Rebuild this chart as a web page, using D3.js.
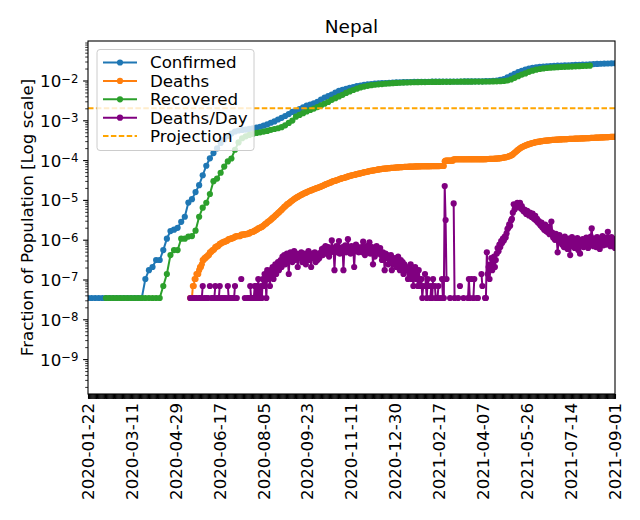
<!DOCTYPE html>
<html>
<head>
<meta charset="utf-8">
<script src="https://cdn.jsdelivr.net/npm/d3@7"></script>
<style>
  body { margin: 0; background: #fff; }
  svg { font-family: "DejaVu Sans", sans-serif; }
</style>
</head>
<body>
<svg id="chart" width="640" height="520"></svg>
<script>
// --- data (Nepal, counts) ---
const population = 29136808;
const firstDay = "2020-01-22";
const lastDay = "2021-09-01";
const sampleStepDays = 4;

// cumulative confirmed cases, one value every 4 days from confirmedStart
const confirmedStart = "2020-01-22";
const confirmedCounts = [
  1, 1, 1, 1, 1, 1, 1, 1, 1, 1, 1, 1, 1, 1, 1, 1,
  3, 5, 6, 9, 9, 16, 31, 48, 52, 58,
  82, 110, 249, 304, 457, 682, 1212, 2099, 3235, 4364,
  5760, 7848, 9561, 11755, 13564, 15259, 16168, 16719, 17061, 17658,
  18241, 19063, 20086, 21390, 22972, 25260, 27240, 30483, 33533, 37340,
  41649, 47236, 50465, 55329, 61593, 67803, 72359, 77817, 84570, 96600,
  107755, 119000, 128000, 144000, 159000, 170743, 180000, 190000, 200000, 210000,
  218000, 225000, 232000, 238000, 243000, 247000, 249500, 252500, 255500, 258500,
  260600, 262500, 264000, 265800, 267100, 268300, 269200, 270100, 270800, 271400,
  272000, 272500, 273000, 273400, 273800, 274300, 274700, 275000, 275400, 275700,
  276100, 276600, 277000, 277600, 278400, 279600, 281600, 284900, 291000, 302000,
  318000, 350000, 385000, 428000, 472000, 512000, 548000, 580000, 605000, 626000,
  642000, 655000, 665000, 673000, 680000, 686000, 692000, 698000, 704000, 710000,
  716000, 722000, 729000, 736000, 744000, 752000, 760000, 767000, 774000, 780000,
  786000, 791000
];

// cumulative recovered, one value every 4 days from recoveredStart
const recoveredStart = "2020-02-11";
const recoveredCounts = [
  1, 1, 1, 1, 1, 1, 1, 1, 1, 1, 1, 1, 1, 1, 1, 1,
  2, 4, 12, 16, 16, 31, 31, 35, 36, 49,
  110, 186, 247, 410, 860, 1000, 1400, 2000, 2700, 3200,
  5300, 8100, 10300, 11500, 12500, 13200, 14000, 14500, 15200, 15800,
  16800, 17600, 18400, 19600, 21800, 25000, 28700, 36000, 39800, 44000,
  48500, 53000, 57500, 62500, 69000, 76000, 84000, 95000, 105000, 116000,
  127000, 142000, 155000, 168000, 182000, 195000, 205000, 214000, 222000, 228000,
  233000, 237500, 242000, 246000, 250000, 253000, 255500, 257800, 259800, 261500,
  263000, 264300, 265400, 266300, 267100, 267800, 268400, 269000, 269500, 270000,
  270500, 271000, 271400, 271800, 272200, 272600, 273000, 273400, 273800, 274200,
  274700, 275300, 276000, 277000, 279000, 283000, 291000, 310000, 340000, 375000,
  410000, 440000, 480000, 515000, 545000, 567000, 585000, 600000, 612000, 622000,
  630000, 637000, 643000, 648000, 654000, 660000, 667000, 674000, 681000, 688000
];

// deaths per day, one value per day from deathsPerDayStart
const deathsPerDayStart = "2020-05-15";
const deathsPerDay = [
  1, 0, 0, 1, 0, 1, 0, 1, 0, 0, 1, 1, 0, 1, 2, 0, 1, 0, 1, 0, 1, 0, 2,
  0, 1, 1, 0, 1, 2, 0, 1, 0, 1, 2, 0, 1, 1, 0, 1, 0, 1, 0, 2, 1, 0,
  1, 0, 1, 0, 1, 2, 0, 1, 0, 0, 0, 0, 3, 0, 0, 0, 1, 0, 0, 1, 1, 0, 2,
  1, 1, 0, 1, 2, 1, 2, 1, 3, 1,
  1, 2, 1, 3, 2, 4, 3, 1, 5, 3, 4, 2, 5, 4, 6, 3, 5, 7, 4, 6, 8, 5, 7,
  9, 6, 11, 8, 12, 7, 10, 13, 9, 4, 11, 14, 10, 8, 12, 15, 9, 11, 13, 6, 12, 10,
  11, 14, 8, 12, 9, 13, 7, 10, 12, 15, 9, 11, 6, 13, 10, 12, 14, 8, 11, 9, 13, 10, 12,
  14, 17, 12, 18, 15, 20, 13, 16, 19, 11, 17, 14, 28, 15, 18, 5, 16, 20, 14, 17,
  27, 13, 18, 15, 19, 5, 16, 21, 14, 17, 30, 15, 19, 13, 20, 16, 18, 6, 17, 22,
  15, 19, 14, 18,
  16, 19, 14, 26, 17, 12, 18, 20, 15, 17, 25, 13, 16, 19, 7, 18, 11, 17, 20, 15,
  16, 13, 18,
  12, 9, 14, 11, 5, 13, 10, 12, 7, 11, 9, 12, 5, 10,
  9, 7, 10, 6, 8, 11, 7, 5, 9, 6, 8, 4, 7, 6, 5,
  5, 3, 6, 4, 7, 3, 5, 2, 4, 6, 3, 4, 2, 5, 3,
  2, 3, 1, 2, 0, 4, 2, 1, 3, 2, 0, 1, 2, 1, 3, 0, 2, 1, 0, 1, 2, 0, 1, 0, 3, 1, 1,
  650, 91, 3, 0, 0, 0, 1, 0, 0, 0, 237, 1, 0, 0, 0, 1, 0, 2, 0, 0,
  0, 1, 0, 0, 0, 0, 1, 3, 1, 0, 3, 0, 1, 3, 0, 0, 1, 1, 0, 0,
  0, 4, 2, 0, 0, 1, 1, 14, 4, 6, 3, 7, 10, 5, 8, 11, 6,
  9, 13, 18, 15, 22, 19, 27, 24, 31, 28, 35, 33, 42,
  54, 58, 71, 65, 88, 97,
  139, 225, 168, 214, 190, 246, 203, 231, 246, 177, 203, 168,
  150, 167, 142, 129, 155, 136, 118, 140, 124, 109, 131, 102, 96, 115, 88, 97, 79, 85, 72, 66,
  78, 59, 64, 52, 70, 48, 56, 45, 61, 40, 47, 83, 44, 33,
  36, 29, 41, 31, 14, 27, 38, 25, 33, 22, 30, 19, 35, 24, 28, 17, 31, 21, 12, 26,
  34, 20, 29, 18, 27, 23, 32, 16, 25, 13, 28, 22, 30, 19, 26, 21, 33, 24, 18, 29,
  22, 35, 56, 27, 20, 31, 25, 19, 34, 23, 28, 17, 30, 24, 36, 21, 27, 33, 22, 29,
  46, 25, 31, 20, 34, 26, 23, 30, 18
];

const projectionLevel = 0.002;

const xTickLabels = [
  "2020-01-22", "2020-03-11", "2020-04-29", "2020-06-17", "2020-08-05",
  "2020-09-23", "2020-11-11", "2020-12-30", "2021-02-17", "2021-04-07",
  "2021-05-26", "2021-07-14", "2021-09-01"
];
const yTickExponents = [-9, -8, -7, -6, -5, -4, -3, -2];

const seriesNames = ["Confirmed", "Deaths", "Recovered", "Deaths/Day", "Projection"];
const seriesColors = ["#1f77b4", "#ff7f0e", "#2ca02c", "purple", "orange"];

// --- layout ---
const plotLeft = 88, plotRight = 615, plotTop = 41, plotBottom = 394;
const fontSize = 16.7;

const svg = d3.select("#chart");
const parse = d3.utcParse("%Y-%m-%d");

const x = d3.scaleUtc()
  .domain([parse(firstDay), parse(lastDay)])
  .range([plotLeft, plotRight]);

const y = d3.scaleLog()
  .domain([Math.pow(10, -9.877), Math.pow(10, -1.0075)])
  .range([plotBottom, plotTop]);

function sampled(start, counts) {
  const s = parse(start);
  return counts.map((c, i) => ({ date: d3.utcDay.offset(s, i * sampleStepDays), value: c / population }));
}

const confirmed = sampled(confirmedStart, confirmedCounts);
const recovered = sampled(recoveredStart, recoveredCounts);
const dStart = parse(deathsPerDayStart);
const daily = deathsPerDay.map((c, i) => ({ date: d3.utcDay.offset(dStart, i), value: c / population }));
const totalDeaths = Array.from(d3.cumsum(deathsPerDay))
  .map((c, i) => ({ date: d3.utcDay.offset(dStart, i), value: c / population }));

svg.append("defs").append("clipPath").attr("id", "clip")
  .append("rect")
  .attr("x", plotLeft).attr("y", plotTop)
  .attr("width", plotRight - plotLeft).attr("height", plotBottom - plotTop);

const plot = svg.append("g").attr("clip-path", "url(#clip)");

function drawSeries(data, color) {
  const line = d3.line()
    .defined(d => d.value > 0)
    .x(d => x(d.date))
    .y(d => y(d.value));

  plot.append("path")
    .datum(data)
    .attr("d", line)
    .attr("fill", "none")
    .attr("stroke", color)
    .attr("stroke-width", 2);

  plot.append("g")
    .selectAll("circle")
    .data(data.filter(d => d.value > 0))
    .join("circle")
    .attr("cx", d => x(d.date))
    .attr("cy", d => y(d.value))
    .attr("r", 3.1)
    .attr("fill", color);
}

drawSeries(confirmed, seriesColors[0]);
drawSeries(totalDeaths, seriesColors[1]);
drawSeries(recovered, seriesColors[2]);
drawSeries(daily, seriesColors[3]);

// projection
plot.append("line")
  .attr("x1", plotLeft).attr("x2", plotRight)
  .attr("y1", y(projectionLevel)).attr("y2", y(projectionLevel))
  .attr("stroke", seriesColors[4])
  .attr("stroke-width", 2)
  .attr("stroke-dasharray", "5.5,2.4");

// --- x axis: a tick for every day ---
const allDays = d3.utcDay.range(parse(firstDay), d3.utcDay.offset(parse(lastDay), 1));
svg.append("g")
  .attr("transform", `translate(0,${plotBottom})`)
  .call(d3.axisBottom(x).tickValues(allDays).tickSize(4.9).tickFormat(""))
  .call(g => g.select(".domain").remove())
  .call(g => g.selectAll(".tick line").attr("stroke", "#000").attr("stroke-width", 1.1));

svg.append("g")
  .selectAll("text")
  .data(xTickLabels)
  .join("text")
  .attr("transform", d => `translate(${x(parse(d))},${plotBottom + 9}) rotate(-90)`)
  .attr("text-anchor", "end")
  .attr("dy", "0.35em")
  .style("font-size", fontSize + "px")
  .text(d => d);

// --- y axis ---
const majorTicks = yTickExponents.map(e => Math.pow(10, e));
const minorTicks = [];
for (let e = -10; e <= -2; e++) {
  for (let k = 2; k <= 9; k++) {
    const v = k * Math.pow(10, e);
    if (v >= y.domain()[0] && v <= y.domain()[1]) minorTicks.push(v);
  }
}

svg.append("g")
  .attr("transform", `translate(${plotLeft},0)`)
  .call(d3.axisLeft(y).tickValues(majorTicks).tickSize(4.9).tickFormat(""))
  .call(g => g.select(".domain").remove())
  .call(g => g.selectAll(".tick line").attr("stroke-width", 1.1));

svg.append("g")
  .attr("transform", `translate(${plotLeft},0)`)
  .call(d3.axisLeft(y).tickValues(minorTicks).tickSize(2.8).tickFormat(""))
  .call(g => g.select(".domain").remove())
  .call(g => g.selectAll(".tick line").attr("stroke-width", 0.8));

const yLabels = svg.append("g")
  .selectAll("text")
  .data(yTickExponents)
  .join("text")
  .attr("x", plotLeft - 9.5)
  .attr("y", d => y(Math.pow(10, d)) + 6.5)
  .attr("text-anchor", "end")
  .style("font-size", fontSize + "px");

yLabels.append("tspan").text("10");
yLabels.append("tspan")
  .attr("dy", -4.5)
  .style("font-size", "11.7px")
  .text(d => "\u2212" + Math.abs(d));

// frame
svg.append("rect")
  .attr("x", plotLeft).attr("y", plotTop)
  .attr("width", plotRight - plotLeft).attr("height", plotBottom - plotTop)
  .attr("fill", "none")
  .attr("stroke", "#000")
  .attr("stroke-width", 1.1);

// title and axis label
svg.append("text")
  .attr("x", (plotLeft + plotRight) / 2)
  .attr("y", 32.5)
  .attr("text-anchor", "middle")
  .style("font-size", "18.5px")
  .text("Nepal");

svg.append("text")
  .attr("transform", `translate(33,${(plotTop + plotBottom) / 2}) rotate(-90)`)
  .attr("text-anchor", "middle")
  .style("font-size", fontSize + "px")
  .text("Fraction of Population [Log scale]");

// --- legend ---
const legend = svg.append("g").attr("transform", "translate(97,49.5)");

legend.append("rect")
  .attr("width", 157)
  .attr("height", 101)
  .attr("rx", 3)
  .attr("fill", "#fff")
  .attr("fill-opacity", 0.8)
  .attr("stroke", "#ccc")
  .attr("stroke-width", 1);

seriesNames.forEach((name, i) => {
  const rowY = 13 + i * 18.4;
  const handle = legend.append("line")
    .attr("x1", 6).attr("x2", 40)
    .attr("y1", rowY).attr("y2", rowY)
    .attr("stroke", seriesColors[i])
    .attr("stroke-width", 2);
  if (i === 4) {
    handle.attr("stroke-dasharray", "5.5,2.4");
  } else {
    legend.append("circle")
      .attr("cx", 23).attr("cy", rowY)
      .attr("r", 3.1)
      .attr("fill", seriesColors[i]);
  }
  legend.append("text")
    .attr("x", 53)
    .attr("y", rowY)
    .attr("dy", "0.35em")
    .style("font-size", fontSize + "px")
    .text(name);
});
</script>
</body>
</html>
